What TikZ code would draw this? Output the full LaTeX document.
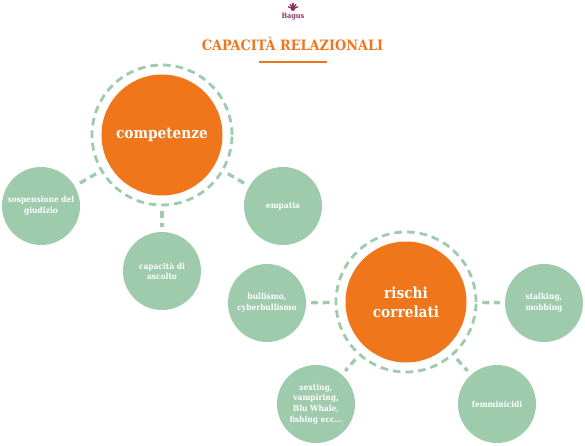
\documentclass[tikz,border=0pt]{standalone}
\usepackage{fontspec}
\setmainfont{DejaVu Serif Condensed}
\usepackage{xcolor}
\usetikzlibrary{positioning}
\definecolor{bagusorange}{HTML}{F0761C}
\definecolor{bagusgreen}{HTML}{9FCBAD}
\definecolor{baguspurple}{HTML}{8E2F63}
\tikzset{
  hub/.style={circle, fill=bagusorange, minimum size=3.63cm, inner sep=0pt, align=center, text=white, font=\bfseries\fontsize{13}{16}\selectfont},
  hubring/.style={circle, draw=bagusgreen, line width=0.85mm, dash pattern=on 2.3mm off 1.5mm, minimum size=4.2cm, inner sep=0pt},
  leaf/.style={circle, fill=bagusgreen, minimum size=2.34cm, inner sep=0pt, align=center, text=white, font=\bfseries\fontsize{7.1}{9}\selectfont},
  link/.style={draw=bagusgreen, line width=1mm, dash pattern=on 2.1mm off 1.4mm, shorten <=1.5mm, shorten >=1.5mm}
}
\begin{document}
\begin{tikzpicture}[x=0.03cm, y=-0.03cm]
\useasboundingbox (0,0) rectangle (585,445);
\node[baguspurple, font=\bfseries\fontsize{6.2}{7}\selectfont] (logo) at (293,17) {Bagus};
\fill[baguspurple] (293,8.5) circle[radius=2.4];
\foreach \r in {-20,-55,-90,-125,-160} { \draw[baguspurple, line width=0.4mm, line cap=round] (293,8.5) -- ++(\r:5); }
\node[bagusorange, font=\bfseries\fontsize{12.2}{14}\selectfont] (title) at (292.5,44) {CAPACITÀ RELAZIONALI};
\coordinate (ruleL) at (259,61.5); \coordinate (ruleR) at (327,61.5);
\draw[bagusorange, line width=0.6mm] (ruleL) -- (ruleR);
\node[hubring] (compring) at (162,135) {};
\node[hub] (comp) at (162,135) {competenze};
\node[hubring] (riscring) at (406,302) {};
\node[hub] (risc) at (406,302) {rischi\\correlati};
\foreach \nm/\x/\y/\lab in {sosp/41/206/{sospensione del\\giudizio}, empa/283/206/{empatia}, asco/162/271/{capacità di\\ascolto}, bull/267/303/{bullismo,\\cyberbullismo}, stal/544/303/{stalking,\\mobbing}, sext/316/404/{sexting,\\vampiring,\\Blu Whale,\\fishing ecc...}, femm/497/404/{femminicidi}} { \node[leaf] (\nm) at (\x,\y) {\lab}; }
\foreach \a/\b in {compring/sosp, compring/empa, compring/asco, riscring/bull, riscring/stal, riscring/sext, riscring/femm} { \draw[link] (\a) -- (\b); }
\end{tikzpicture}
\end{document}
